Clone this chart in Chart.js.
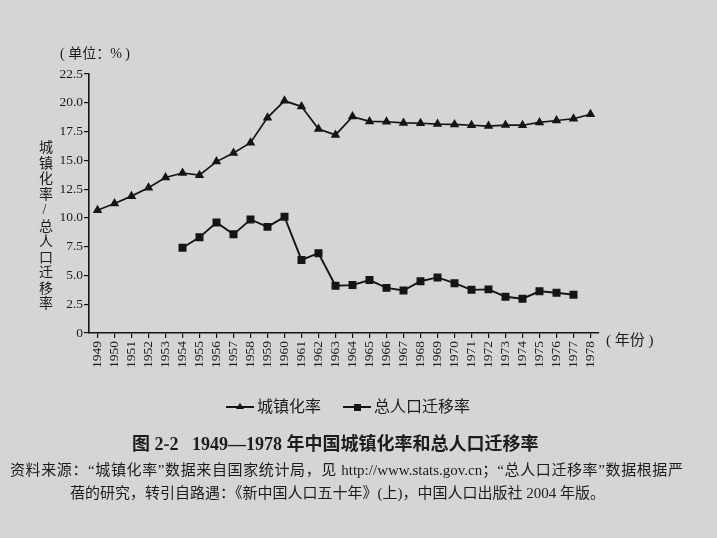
<!DOCTYPE html>
<html>
<head>
<meta charset="utf-8">
<script src="https://cdn.jsdelivr.net/npm/chart.js@4.4.1/dist/chart.umd.min.js"></script>
<style>
  html, body { margin: 0; padding: 0; background: #d5d5d3; }
  #wrap {
    position: relative; width: 717px; height: 538px; overflow: hidden;
    font-family: "Liberation Serif", "Noto Sans CJK SC", serif; color: #1c1c1c;
  }
  #chart { position: absolute; left: 0; top: 0; }
  .txt { position: absolute; white-space: nowrap; line-height: 1; }
  #ytitle { writing-mode: vertical-rl; text-orientation: upright; letter-spacing: 1.5px; }
  .just { text-align: justify; text-align-last: justify; white-space: normal; }
  .leg { position: absolute; top: 399px; height: 16px; font-size: 16px; line-height: 16px; white-space: nowrap; }
  .leg .ln { position: absolute; left: 0; top: 7px; width: 28px; height: 1.7px; background: #151515; }
  .leg .mk { position: absolute; }
  .leg .lb { position: absolute; left: 31px; top: 0; }
</style>
</head>
<body>
<div id="wrap">
  <canvas id="chart" width="717" height="538"></canvas>
  <div class="txt" style="left:60px;top:47px;font-size:14px;">( 单位：% )</div>
  <div class="txt" id="ytitle" style="left:37px;top:140px;font-size:14px;">城镇化率/总人口迁移率</div>
  <div class="txt" style="left:606px;top:333px;font-size:15px;">( 年份 )</div>
  <div id="legend"></div>
  <div class="txt" style="left:132px;top:435px;font-size:18px;font-weight:bold;">图 2-2&nbsp;&nbsp;&nbsp;1949—1978 年中国城镇化率和总人口迁移率</div>
  <div class="txt just" style="left:10px;top:463px;width:673px;font-size:15px;">资料来源：“城镇化率”数据来自国家统计局，见 http://www.stats.gov.cn；“总人口迁移率”数据根据严</div>
  <div class="txt" style="left:70px;top:486px;font-size:15px;">蓓的研究，转引自路遇：《新中国人口五十年》(上)，中国人口出版社 2004 年版。</div>
</div>
<script>
// 年份（横轴）
const years = [
  "1949", "1950", "1951", "1952", "1953", "1954", "1955", "1956", "1957", "1958",
  "1959", "1960", "1961", "1962", "1963", "1964", "1965", "1966", "1967", "1968",
  "1969", "1970", "1971", "1972", "1973", "1974", "1975", "1976", "1977", "1978",
];

// 城镇化率 (%), 1949-1978
const urbanRate = [
  10.67, 11.25, 11.89, 12.61, 13.51, 13.90, 13.71, 14.89, 15.64, 16.53,
  18.71, 20.17, 19.67, 17.72, 17.21, 18.80, 18.38, 18.35, 18.25, 18.22,
  18.15, 18.12, 18.05, 17.98, 18.06, 18.05, 18.29, 18.46, 18.61, 19.00,
];

// 总人口迁移率 (%), 1954-1977，其余年份无数据
const migrationRate = [
  null, null, null, null, null, 7.41, 8.31, 9.60, 8.57, 9.86,
  9.22, 10.09, 6.35, 6.93, 4.10, 4.16, 4.60, 3.92, 3.69, 4.50,
  4.83, 4.33, 3.75, 3.79, 3.15, 2.98, 3.62, 3.50, 3.32, null,
];

const ink = "#151515";
const serif = "'Liberation Serif', 'Noto Sans CJK SC', serif";

const chart = new Chart(document.getElementById("chart"), {
  type: "line",
  data: {
    labels: years,
    datasets: [
      {
        label: "城镇化率",
        data: urbanRate,
        borderColor: ink,
        backgroundColor: ink,
        borderWidth: 1.7,
        pointStyle: "triangle",
        pointRadius: 3.8,
        tension: 0,
      },
      {
        label: "总人口迁移率",
        data: migrationRate,
        borderColor: ink,
        backgroundColor: ink,
        borderWidth: 1.9,
        pointStyle: "rect",
        pointRadius: 4.3,
        tension: 0,
      },
    ],
  },
  options: {
    responsive: false,
    animation: false,
    devicePixelRatio: 1,
    layout: { padding: { top: 74, right: 118, bottom: 150, left: 0 } },
    plugins: {
      legend: { display: false },
      tooltip: { enabled: false },
    },
    scales: {
      x: {
        offset: true,
        grid: { offset: false, drawOnChartArea: false, drawTicks: true, tickLength: 5, color: ink, lineWidth: 1.2 },
        border: { color: ink, width: 1.6 },
        ticks: {
          autoSkip: false,
          minRotation: 90,
          maxRotation: 90,
          padding: 3,
          color: "#1c1c1c",
          font: { family: serif, size: 13.5 },
        },
        afterFit(scale) { scale.height = 55; },
      },
      y: {
        min: 0,
        max: 22.5,
        grid: { drawOnChartArea: false, drawTicks: true, tickLength: 5, color: ink, lineWidth: 1.2 },
        border: { color: ink, width: 1.6 },
        ticks: {
          stepSize: 2.5,
          padding: 1,
          color: "#1c1c1c",
          font: { family: serif, size: 13.5 },
          callback: (v) => (v === 0 ? "0" : v.toFixed(1)),
        },
        afterFit(scale) { scale.width = 89; },
      },
    },
  },
});

// 图例：线段加标记
const legendLeft = [226, 343];
chart.data.datasets.forEach((ds, i) => {
  const item = document.createElement("div");
  item.className = "leg";
  item.style.left = legendLeft[i] + "px";
  const mk = ds.pointStyle === "triangle"
    ? '<div class="mk" style="left:10px;top:4px;width:0;height:0;border-left:4px solid transparent;border-right:4px solid transparent;border-bottom:6.5px solid ' + ink + ';"></div>'
    : '<div class="mk" style="left:11px;top:5px;width:6.5px;height:6.5px;background:' + ink + ';"></div>';
  item.innerHTML = '<div class="ln"></div>' + mk + '<div class="lb">' + ds.label + "</div>";
  document.getElementById("legend").appendChild(item);
});
</script>
</body>
</html>
